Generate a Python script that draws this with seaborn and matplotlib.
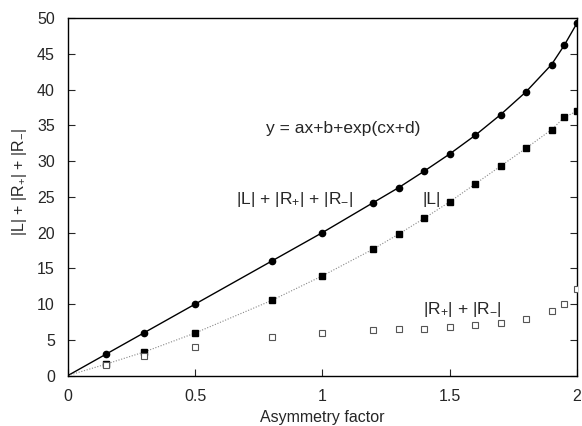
import numpy as np
import pandas as pd
import matplotlib
matplotlib.use("Agg")
import matplotlib.pyplot as plt
import seaborn as sns

# Data
asym = [0.15, 0.3, 0.5, 0.8, 1.0, 1.2, 1.3, 1.4, 1.5, 1.6, 1.7, 1.8, 1.9, 1.95, 2.0]
total = [3.0, 6.0, 10.0, 16.0, 20.0, 24.2, 26.3, 28.6, 31.0, 33.6, 36.5, 39.7, 43.5, 46.2, 49.3]
l_abs = [1.6, 3.3, 5.95, 10.5, 13.95, 17.7, 19.8, 22.0, 24.3, 26.8, 29.3, 31.8, 34.4, 36.1, 37.0]
r_sum = [1.45, 2.7, 3.95, 5.45, 5.95, 6.3, 6.5, 6.55, 6.75, 7.0, 7.3, 7.95, 9.0, 10.0, 12.15]

# fitted curves pass through the origin
fit_x = [0.0] + asym
fit_total = [0.0] + total
fit_l = [0.0] + l_abs

sns.set_style("ticks")
plt.rcParams['font.family'] = ['Liberation Sans', 'DejaVu Sans']
plt.rcParams['mathtext.fontset'] = 'custom'
plt.rcParams['mathtext.rm'] = 'Liberation Sans'
plt.rcParams['mathtext.it'] = 'Liberation Sans'
plt.rcParams['mathtext.default'] = 'regular'

fig = plt.figure(figsize=(5.82, 4.26), dpi=100)
ax = fig.add_axes([0.1168, 0.1185, 0.8746, 0.839])

sns.lineplot(x=fit_x, y=fit_total, ax=ax, color='black', lw=1.0, sort=False)
sns.lineplot(x=fit_x, y=fit_l, ax=ax, color='#888888', lw=0.8, linestyle=(0, (1, 1.5)), sort=False)

ax.plot(asym, total, 'o', color='black', ms=4.5, zorder=3)
ax.plot(asym, l_abs, 's', color='black', ms=5, zorder=3)
ax.plot(asym, r_sum, 's', mfc='white', mec='#555555', mew=0.8, ms=4.8, zorder=3)

ax.set_xlim(0, 2)
ax.set_ylim(0, 50)
ax.set_xticks([0, 0.5, 1, 1.5, 2])
ax.set_xticklabels(['0', '0.5', '1', '1.5', '2'])
ax.set_yticks(range(0, 51, 5))
ax.tick_params(direction='in', length=5, width=0.8, labelsize=11.5, right=True, top=False, pad=9.5)
for s in ax.spines.values():
    s.set_linewidth(1.0)
    s.set_color('black')

ax.set_xlabel('Asymmetry factor', fontsize=11.5)
ax.set_ylabel(r'|L| + |R$_{+}$| + |R$_{-}$|', fontsize=11.5)
ax.xaxis.set_label_coords(0.5, -0.097)
ax.yaxis.set_label_coords(-0.076, 0.541)

ax.text(1.083, 34.6, 'y = ax+b+exp(cx+d)', fontsize=12.5, ha='center', va='center')
ax.text(0.89, 24.6, r'|L| + |R$_{+}$| + |R$_{-}$|', fontsize=12.5, ha='center', va='center')
ax.text(1.43, 24.6, '|L|', fontsize=12.5, ha='center', va='center')
ax.text(1.55, 9.2, r'|R$_{+}$| + |R$_{-}$|', fontsize=12.5, ha='center', va='center')

fig.savefig('out.png', dpi=100)
